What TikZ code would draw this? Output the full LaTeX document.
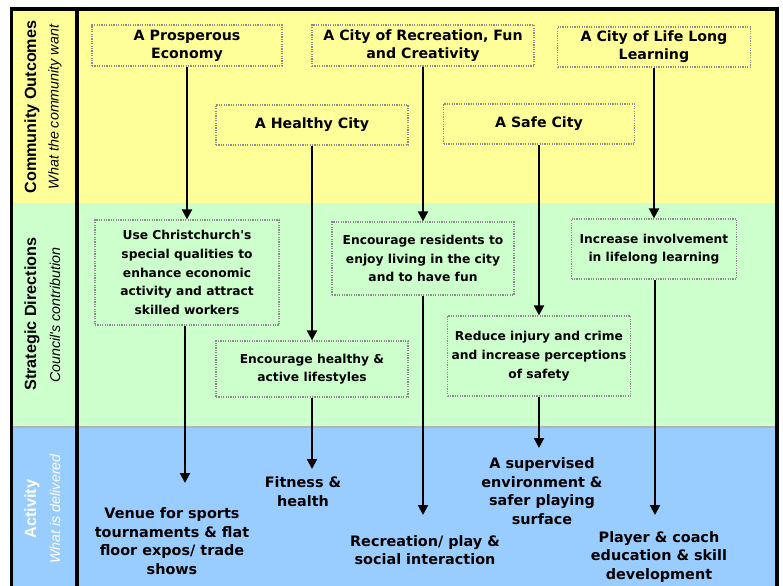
\documentclass[tikz,border=0pt]{standalone}
\usepackage{fontspec}
\setmainfont{DejaVu Sans}[Ligatures=TeXOff]
\newfontfamily\sidefont{Liberation Sans}[Ligatures=TeXOff]
\usetikzlibrary{arrows.meta}
\definecolor{outcomeyellow}{HTML}{FFFF99}
\definecolor{directiongreen}{HTML}{CCFFCC}
\definecolor{activityblue}{HTML}{99CCFF}
\definecolor{dotgrey}{HTML}{8C8C8C}
\definecolor{rulegrey}{HTML}{B4B4B4}
\tikzset{
    goalbox/.style 2 args={draw=dotgrey, line width=0.9pt, dash pattern=on 0.9pt off 0.9pt,
        align=center, inner sep=0pt, minimum width=#1*0.75pt, minimum height=#2*0.75pt},
    outcomebox/.style 2 args={goalbox={#1}{#2}, font=\bfseries\fontsize{10.65}{13.7}\selectfont},
    dirbox/.style 2 args={goalbox={#1}{#2}, font=\bfseries\fontsize{9.2}{14}\selectfont},
    result/.style={align=center, inner sep=0pt, font=\bfseries\fontsize{10.8}{14}\selectfont},
    sidehead/.style={rotate=90, inner sep=0pt, font=\sidefont\bfseries\fontsize{12.15}{14}\selectfont},
    sidesub/.style={rotate=90, inner sep=0pt, font=\sidefont\itshape\fontsize{10.7}{13}\selectfont},
    flow/.style={line width=1.5pt, -{Triangle[width=7.5pt,length=7.5pt]}}
}
\begin{document}
\begin{tikzpicture}[x=0.75pt, y=-0.75pt]
    \useasboundingbox (0,0) rectangle (783,586);
    \fill[black] (10,7) rectangle (779,586);
    \foreach \top/\bot/\col in {11/203/outcomeyellow, 203/427/directiongreen, 427/586/activityblue} {
        \fill[\col] (13,\top) rectangle (75,\bot);
        \fill[\col] (79,\top) rectangle (775,\bot);
    }
    \draw[rulegrey, line width=1.5pt] (13,427) -- (75,427) (79,427) -- (775,427);

    \node[sidehead] (outcomes) at (32,107) {Community Outcomes};
    \node[sidesub] (want) at (55,107) {What the community want};
    \node[sidehead] (directions) at (32,314) {Strategic Directions};
    \node[sidesub] (contribution) at (55,315) {Council's contribution};
    \node[sidehead, white] (activity) at (32,509) {Activity};
    \node[sidesub, white] (delivered) at (55,509) {What is delivered};

    \node[outcomebox={190}{41}] (prosp) at (187,45.5) {A Prosperous\\Economy};
    \node[outcomebox={222}{41}] (recr) at (423,45.5) {A City of Recreation, Fun\\and Creativity};
    \node[outcomebox={193}{40}] (learn) at (654,47) {A City of Life Long\\Learning};
    \node[outcomebox={192}{40}] (health) at (312,125) {A Healthy City};
    \node[outcomebox={191}{40}] (safe) at (539,124) {A Safe City};

    \node[dirbox={184}{105}] (econ) at (187,272.5) {Use Christchurch's\\special qualities to\\enhance economic\\activity and attract\\skilled workers};
    \node[dirbox={182}{73}] (enjoy) at (423,258.5) {Encourage residents to\\enjoy living in the city\\and to have fun};
    \node[dirbox={165}{60}] (involve) at (654,249) {Increase involvement\\in lifelong learning};
    \node[dirbox={192}{56}] (active) at (312,369) {Encourage healthy \&\\active lifestyles};
    \node[dirbox={183}{80}] (safety) at (539,356) {Reduce injury and crime\\and increase perceptions\\of safety};

    \node[result] (venue) at (172,541) {Venue for sports\\tournaments \& flat\\floor expos/ trade\\shows};
    \node[result] (fitness) at (303,491.5) {Fitness \&\\health};
    \node[result] (play) at (425,550) {Recreation/ play \&\\social interaction};
    \node[result] (supervised) at (542,491) {A supervised\\environment \&\\safer playing\\surface};
    \node[result] (coach) at (659,557) {Player \& coach\\education \& skill\\development};

    \coordinate (venuetip) at (185,483);
    \coordinate (fitnesstip) at (312,469);
    \coordinate (playtip) at (423,515);
    \coordinate (supervisedtip) at (539,448);
    \coordinate (coachtip) at (655,515);

    \draw[flow] (prosp) -- (econ);
    \draw[flow] (recr) -- (enjoy);
    \draw[flow] (learn) -- (involve);
    \draw[flow] (health) -- (active);
    \draw[flow] (safe) -- (safety);
    \draw[flow] (econ.south -| venuetip) -- (venuetip);
    \draw[flow] (active.south -| fitnesstip) -- (fitnesstip);
    \draw[flow] (enjoy.south -| playtip) -- (playtip);
    \draw[flow] (safety.south -| supervisedtip) -- (supervisedtip);
    \draw[flow] (involve.south -| coachtip) -- (coachtip);
\end{tikzpicture}
\end{document}
